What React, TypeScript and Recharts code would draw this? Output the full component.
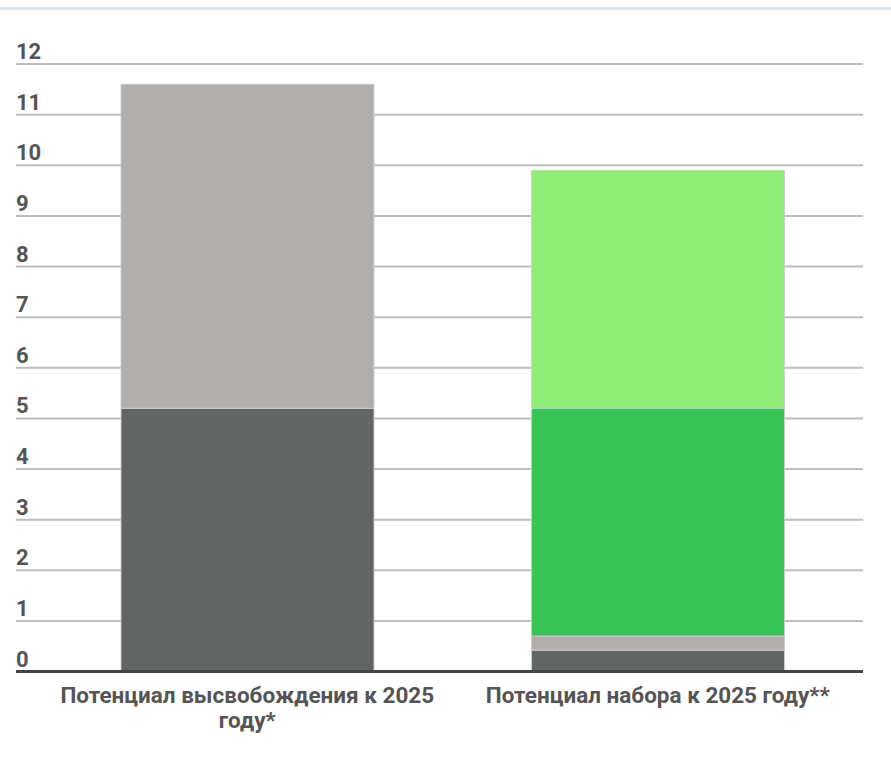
import { Bar, BarChart, CartesianGrid, XAxis, YAxis } from "recharts";

const categories = ["Потенциал высвобождения к 2025\nгоду*", "Потенциал набора к 2025 году**"];
const darkGray = [5.2, 0.42];
const lightGray = [6.4, 0.28];
const green = [0, 4.5];
const lightGreen = [0, 4.7];
const yTicks = [0, 1, 2, 3, 4, 5, 6, 7, 8, 9, 10, 11, 12];

const data = categories.map((name, i) => ({
  name,
  darkGray: darkGray[i],
  lightGray: lightGray[i],
  green: green[i],
  lightGreen: lightGreen[i],
}));

const FONT = "Roboto, 'Noto Sans', sans-serif";
const LABEL_COLOR = "#555";
const BAR_STROKE = "rgba(205,205,205,0.9)";

// labels sit just above their gridline, left aligned with the grid start
function YTick(props: any) {
  const { x, y, payload } = props;
  return (
    <text x={x} y={y - 5} fill={LABEL_COLOR} fontFamily={FONT} fontSize={22} fontWeight={700}>
      {payload.value}
    </text>
  );
}

function XTick(props: any) {
  const { x, y, payload } = props;
  const lines = String(payload.value).split("\n");
  return (
    <text
      x={x}
      y={y + 31}
      textAnchor="middle"
      fill={LABEL_COLOR}
      fontFamily={FONT}
      fontSize={22.5}
      fontWeight={700}
    >
      {lines.map((line, i) => (
        <tspan key={i} x={x} dy={i === 0 ? 0 : 25}>
          {line}
        </tspan>
      ))}
    </text>
  );
}

export default function App() {
  return (
    <div style={{ position: "relative", width: 891, height: 760, background: "#fff" }}>
      <style>{`body{margin:0}`}</style>
      <div style={{ position: "absolute", left: 0, top: 7, width: 891, height: 3, background: "#e1e7ee" }} />
      <BarChart
        width={891}
        height={760}
        data={data}
        margin={{ top: 64, right: 28, bottom: 0, left: 16 }}
        barSize={253}
      >
        <CartesianGrid horizontal vertical={false} stroke="#bdbdbd" strokeWidth={2} />
        <XAxis
          dataKey="name"
          height={88.5}
          padding={{ left: 26, right: 0 }}
          tickLine={false}
          tickSize={0}
          tickMargin={0}
          axisLine={{ stroke: "#444", strokeWidth: 3 }}
          tick={<XTick />}
          interval={0}
        />
        <YAxis
          width={1}
          domain={[0, 12]}
          ticks={yTicks}
          orientation="left"
          mirror
          axisLine={false}
          tickLine={false}
          tickSize={0}
          tickMargin={0}
          tick={<YTick />}
          interval={0}
        />
        <Bar dataKey="darkGray" stackId="a" fill="#616563" stroke={BAR_STROKE} strokeWidth={1} isAnimationActive={false} />
        <Bar dataKey="lightGray" stackId="a" fill="#b2aeac" stroke={BAR_STROKE} strokeWidth={1} isAnimationActive={false} />
        <Bar dataKey="green" stackId="a" fill="#38c457" stroke={BAR_STROKE} strokeWidth={1} isAnimationActive={false} />
        <Bar dataKey="lightGreen" stackId="a" fill="#8fee77" stroke={BAR_STROKE} strokeWidth={1} isAnimationActive={false} />
      </BarChart>
    </div>
  );
}
